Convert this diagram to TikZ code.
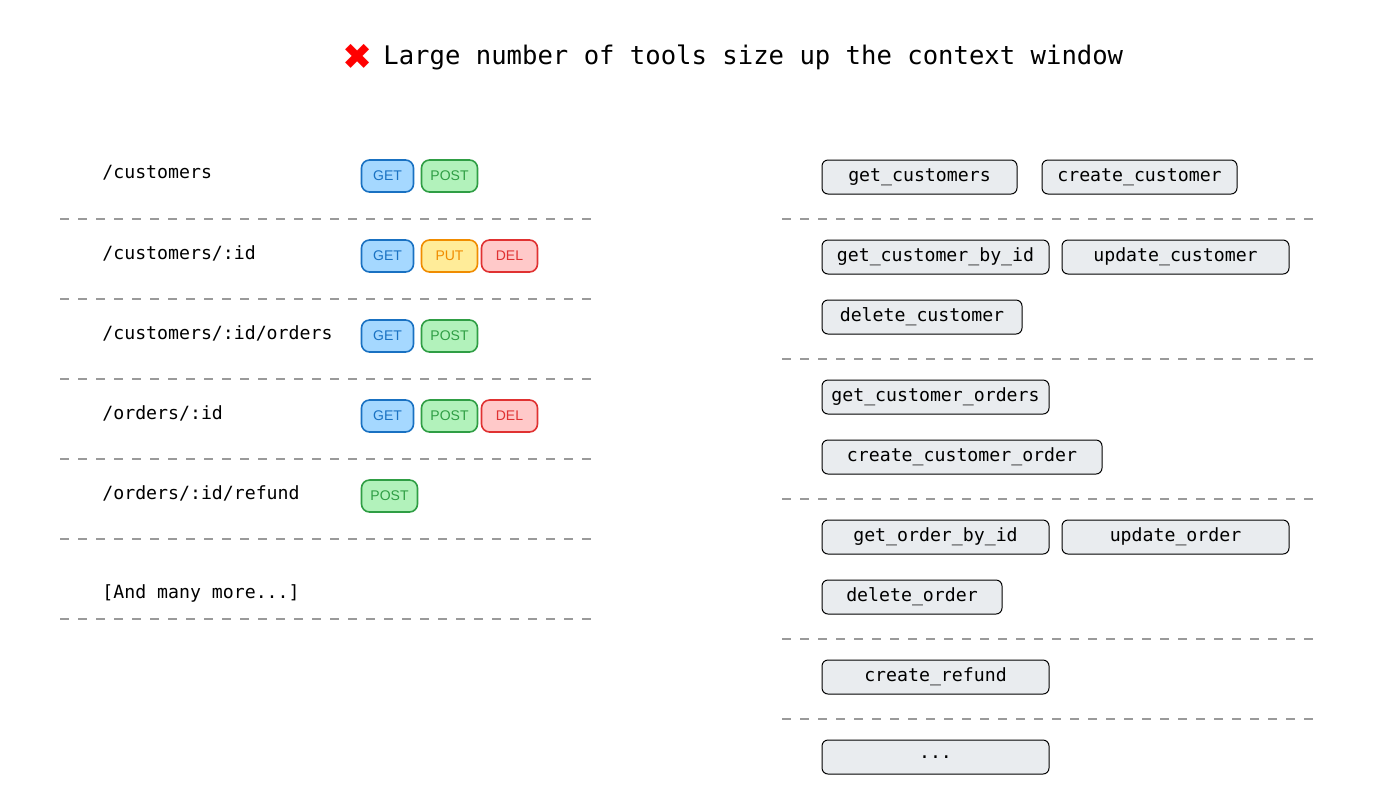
\documentclass[tikz,border=0pt]{standalone}
\usepackage{fontspec}
\setmonofont{DejaVu Sans Mono}
\setsansfont{Liberation Sans}
\newfontfamily\symfont{DejaVu Sans}
\usetikzlibrary{positioning}

\definecolor{getfill}{HTML}{A5D8FF}
\definecolor{getline}{HTML}{1971C2}
\definecolor{postfill}{HTML}{B2F2BB}
\definecolor{postline}{HTML}{2F9E44}
\definecolor{putfill}{HTML}{FFEC99}
\definecolor{putline}{HTML}{F08C00}
\definecolor{delfill}{HTML}{FFC9C9}
\definecolor{delline}{HTML}{E03131}
\definecolor{toolfill}{HTML}{E9ECEF}
\definecolor{sepline}{HTML}{9A9A9A}

\tikzset{
  badge/.style={rectangle, rounded corners=4pt, line width=0.8pt, minimum height=16pt, minimum width=26pt, inner sep=0pt, font=\sffamily\fontsize{7}{8}\selectfont},
  getb/.style={badge, draw=getline, fill=getfill, text=getline},
  postb/.style={badge, draw=postline, fill=postfill, text=postline, minimum width=28pt},
  putb/.style={badge, draw=putline, fill=putfill, text=putline, minimum width=28pt},
  delb/.style={badge, draw=delline, fill=delfill, text=delline, minimum width=28pt},
  route/.style={anchor=west, inner sep=0pt, font=\ttfamily\fontsize{9.1}{11}\selectfont},
  toolbox/.style={rectangle, draw, fill=toolfill, rounded corners=3pt, line width=0.5pt, minimum height=17pt, inner sep=0pt, font=\ttfamily\fontsize{9.1}{11}\selectfont},
  sep/.style={draw=sepline, dash pattern=on 4.5pt off 4.5pt, line width=0.6pt}
}

\begin{document}
\begin{tikzpicture}[x=0.5pt, y=-0.5pt]
    \useasboundingbox (0,0) rectangle (1380,800);

    % title
    \node [font=\ttfamily\fontsize{12.8}{14}\selectfont, anchor=west, inner sep=0pt] (title) at (383,57) {Large number of tools size up the context window};
    \node [text=red, font=\symfont\fontsize{18}{18}\selectfont, inner sep=0pt, left=5pt of title] (cross) {✖};

    % routes
    \node [route] (r1) at (102,173) {/customers};
    \node [route] (r2) at (102,253) {/customers/:id};
    \node [route] (r3) at (102,333) {/customers/:id/orders};
    \node [route] (r4) at (102,413) {/orders/:id};
    \node [route] (r5) at (102,493) {/orders/:id/refund};
    \node [route] (r6) at (102,593) {[And many more...]};

    % methods
    \node [getb] (r1get) at (387.5,176) {GET};
    \node [postb] (r1post) at (449.5,176) {POST};
    \node [getb] (r2get) at (387.5,256) {GET};
    \node [putb] (r2put) at (449.5,256) {PUT};
    \node [delb] (r2del) at (509.5,256) {DEL};
    \node [getb] (r3get) at (387.5,336) {GET};
    \node [postb] (r3post) at (449.5,336) {POST};
    \node [getb] (r4get) at (387.5,416) {GET};
    \node [postb] (r4post) at (449.5,416) {POST};
    \node [delb] (r4del) at (509.5,416) {DEL};
    \node [postb] (r5post) at (389.5,496) {POST};

    % left separators
    \foreach \y in {219,299,379,459,539,619}
        \draw [sep] (60,\y) -- (600,\y);

    % tools
    \foreach \name/\xa/\xb/\y/\txt in {
        t1/822/1017/177/get\_customers,
        t2/1042/1237/177/create\_customer,
        t3/822/1049/257/get\_customer\_by\_id,
        t4/1062/1289/257/update\_customer,
        t5/822/1022/317/delete\_customer,
        t6/822/1049/397/get\_customer\_orders,
        t7/822/1102/457/create\_customer\_order,
        t8/822/1049/537/get\_order\_by\_id,
        t9/1062/1289/537/update\_order,
        t10/822/1002/597/delete\_order,
        t11/822/1049/677/create\_refund,
        t12/822/1049/757/{...}}
        \node [toolbox, minimum width={(\xb-\xa)*0.5pt}] (\name) at ({(\xa+\xb)/2},\y) {\txt};

    % right separators
    \foreach \y in {219,359,499,639,719}
        \draw [sep] (782,\y) -- (1322,\y);
\end{tikzpicture}
\end{document}
